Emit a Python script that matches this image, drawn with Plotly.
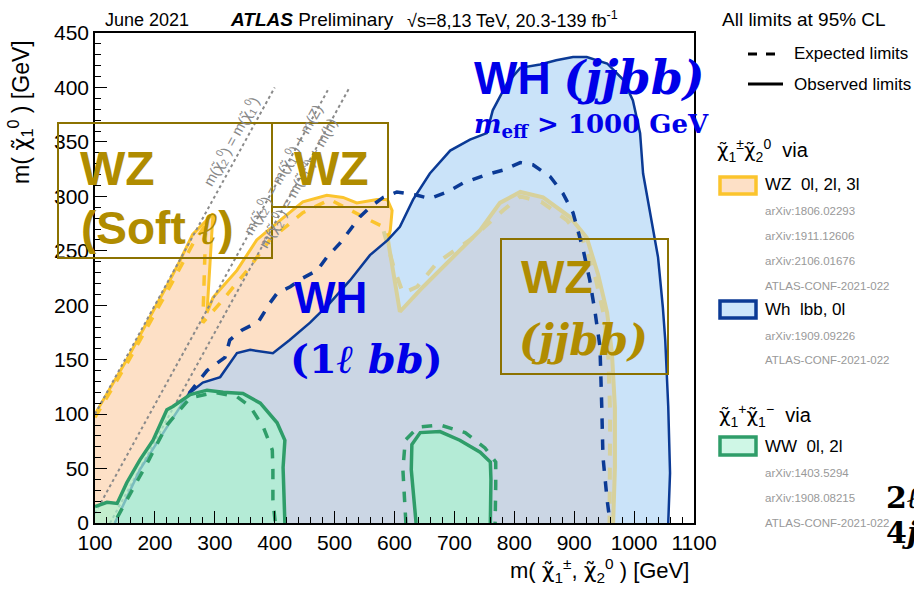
import plotly.graph_objects as go

# ---------------- data ----------------
# WH (1l bb + 0l jjbb) observed contour
WH_obs_x = [133, 175, 220, 257, 280, 309, 337, 359, 397, 425, 459, 492, 526, 559, 589, 609, 631, 659,
            693, 726, 754, 764, 788, 810, 843, 870, 898, 921, 955, 982, 998, 1010, 1015, 1030, 1040,
            1048, 1052, 1057, 1060, 1057]
WH_obs_y = [0, 49, 88, 119, 129, 134, 156, 159, 156, 168, 184, 202, 223, 246, 260, 272, 297, 321,
            342, 352, 358, 379, 404, 418, 421, 425, 428, 428, 422, 407, 388, 358, 321, 275, 244,
            198, 168, 107, 46, 0]
# WH expected contour
WH_exp_x = [257, 287, 317, 325, 345, 373, 392, 404, 426, 447, 471, 487, 509, 526, 542, 559, 581, 604,
            638, 659, 688, 714, 754, 781, 810, 831, 860, 881, 898, 915, 926, 935, 943, 946, 948, 955, 960]
WH_exp_y = [119, 140, 152, 168, 177, 185, 202, 211, 217, 225, 232, 244, 257, 269, 281, 290, 299, 304,
            301, 298, 304, 312, 320, 324, 331, 329, 318, 303, 285, 251, 223, 193, 162, 107, 61, 21, 0]
# WZ (jjbb) observed / expected (right part of the contour)
WZjj_obs_x = [589, 598, 609, 648, 698, 743, 776, 810, 848, 893, 921, 940, 955, 963, 968, 968, 965]
WZjj_obs_y = [260, 232, 194, 217, 244, 269, 294, 304, 299, 281, 262, 228, 193, 156, 106, 51, 0]
WZjj_exp_x = [582, 598, 614, 638, 671, 726, 781, 810, 845, 888, 916, 936, 950, 957, 960, 959]
WZjj_exp_y = [268, 236, 211, 217, 239, 260, 287, 300, 295, 278, 258, 224, 190, 152, 100, 0]
# WZ (0l, 2l, 3l incl. soft lepton) observed / expected
WZ_obs_x = [100, 153, 225, 241, 263, 297, 287, 297, 337, 370, 409, 447, 487, 514, 537, 571, 588, 596, 593, 589]
WZ_obs_y = [100, 150, 223, 240, 265, 284, 193, 207, 232, 260, 278, 295, 301, 299, 294, 297, 297, 287, 269, 260]
WZ_exp_x = [100, 155, 228, 245, 265, 285, 280, 309, 354, 392, 447, 492, 526, 559, 581, 588]
WZ_exp_y = [97, 148, 220, 238, 258, 274, 184, 202, 232, 260, 285, 297, 287, 278, 272, 263]
# WW (0l, 2l) observed / expected, main region and island
WW_obs_x = [100, 100, 120, 137, 145, 153, 175, 197, 220, 230, 259, 287, 314, 347, 376, 404, 417, 414, 417]
WW_obs_y = [0, 15, 19, 18, 28, 37, 58, 76, 104, 107, 118, 122, 120, 119, 110, 92, 76, 51, 0]
WW_exp_x = [137, 160, 190, 220, 259, 300, 337, 359, 381, 396, 397, 397, 401]
WW_exp_y = [5, 28, 58, 90, 115, 120, 116, 107, 88, 67, 49, 21, 0]
WW2_obs_x = [636, 628, 629, 643, 676, 709, 743, 760, 761, 760]
WW2_obs_y = [0, 49, 72, 83, 84, 76, 65, 56, 40, 0]
WW2_exp_x = [619, 614, 618, 639, 676, 718, 751, 769, 769, 768]
WW2_exp_y = [0, 49, 76, 88, 90, 83, 69, 56, 35, 0]
# kinematic lines m(chi2) = m(chi1) + offset
M_OFFSETS = [0.0, 91.2, 125.0]
Y_MAX_LINE = 400.0

X_TICKS = list(range(100, 1101, 100))
Y_TICKS = list(range(0, 451, 50))

# ---------------- styles ----------------
C_PEACH = "#fde0c6"
C_YELLOW = "#fbc42d"
C_BLUEFILL = "#cae3f9"
C_GRAY = "#cbd6e4"
C_KHAKI = "#d7d19c"
C_BLUE = "#0b3a95"
C_GREENFILL = "rgba(169,243,208,0.7)"
C_GREEN = "#2f9d69"
C_GOLD = "#b08c00"
C_GOLDBOX = "#8c7200"
C_TXTBLUE = "#0000e8"
SANS = "Liberation Sans"
SERIF = "DejaVu Serif"

fig = go.Figure()


def poly(x, y, color):
    fig.add_trace(go.Scatter(x=x, y=y, fill="toself", fillcolor=color, mode="lines",
                             line=dict(width=0), hoverinfo="skip", showlegend=False))


def line(x, y, color, width, dash="solid"):
    fig.add_trace(go.Scatter(x=x, y=y, mode="lines",
                             line=dict(color=color, width=width, dash=dash),
                             hoverinfo="skip", showlegend=False))


# WZ region (bounded on the lower right by the WH contour)
i_j = WH_obs_x.index(589)
wz_px = [100] + WZ_obs_x + WH_obs_x[i_j - 1::-1]
wz_py = [0] + WZ_obs_y + WH_obs_y[i_j - 1::-1]
poly(wz_px, wz_py, C_PEACH)
line(WZ_exp_x, WZ_exp_y, C_YELLOW, 3.5, "dash")
line(WZ_obs_x, WZ_obs_y, C_YELLOW, 3)

# kinematic lines
for off in M_OFFSETS:
    x0 = max(100.0, off)
    fig.add_trace(go.Scatter(x=[x0, Y_MAX_LINE + off], y=[x0 - off, Y_MAX_LINE], mode="lines",
                             line=dict(color="#8a8a8a", width=2, dash="dot"),
                             hoverinfo="skip", showlegend=False))

# WH region and WZ(jjbb) region
poly(WH_obs_x, WH_obs_y, C_BLUEFILL)
poly(WH_obs_x[:i_j + 1] + WZjj_obs_x[1:], WH_obs_y[:i_j + 1] + WZjj_obs_y[1:], C_GRAY)
line(WZjj_obs_x, WZjj_obs_y, C_KHAKI, 4)
line(WZjj_exp_x, WZjj_exp_y, C_KHAKI, 4, "dash")
line(WH_exp_x, WH_exp_y, C_BLUE, 3.5, "dash")
line(WH_obs_x, WH_obs_y, C_BLUE, 2.5)

# WW regions
poly(WW_obs_x, WW_obs_y, C_GREENFILL)
poly(WW2_obs_x, WW2_obs_y, C_GREENFILL)
line(WW_exp_x, WW_exp_y, C_GREEN, 3.5, "dash")
line(WW2_exp_x, WW2_exp_y, C_GREEN, 3.5, "dash")
line(WW_obs_x[1:], WW_obs_y[1:], C_GREEN, 3.5)
line(WW2_obs_x, WW2_obs_y, C_GREEN, 3.5)

# ---------------- layout helpers ----------------
L, R, T, B = 95, 694, 33, 523
W, H = R - L, B - T


def px(xp):
    return (xp - L) / W


def py(yp):
    return (B - yp) / H


annotations = []


def ann(x, y, text, size, color="black", family=SANS, xanchor="center", yanchor="middle",
        angle=0, align="center"):
    annotations.append(dict(x=px(x), y=py(y), xref="paper", yref="paper", text=text,
                            showarrow=False, xanchor=xanchor, yanchor=yanchor, textangle=angle,
                            align=align, font=dict(size=size, color=color, family=family)))


shapes = []


def rect(x0, y0, x1, y1, color, width, fill="rgba(0,0,0,0)"):
    shapes.append(dict(type="rect", xref="paper", yref="paper", x0=px(x0), x1=px(x1),
                       y0=py(y1), y1=py(y0), line=dict(color=color, width=width), fillcolor=fill))


def hline(x0, x1, y, color, width, dash="solid"):
    shapes.append(dict(type="line", xref="paper", yref="paper", x0=px(x0), x1=px(x1),
                       y0=py(y), y1=py(y), line=dict(color=color, width=width, dash=dash)))


chi = "<span style=\"font-family:'DejaVu Sans'\">χ\u0303</span>"
# header
ann(103, 20, "June 2021", 18, xanchor="left")
ann(228, 20, "<b><i>ATLAS</i></b> Preliminary", 19, xanchor="left")
ann(405, 20, "√s=8,13 TeV, 20.3-139 fb<sup>-1</sup>", 18, xanchor="left")
ann(720, 20, "All limits at 95% CL", 19, xanchor="left")
hline(748, 783, 54, "black", 3, "dash")
ann(792, 54, "Expected limits", 17, xanchor="left")
hline(748, 783, 84, "black", 3)
ann(792, 84, "Observed limits", 17, xanchor="left")

# legend
ann(715, 150, f"{chi}<sub>1</sub><sup>±</sup>{chi}<sub>2</sub><sup>0</sup>  via", 20, xanchor="left")
rect(720, 177, 756, 194, C_YELLOW, 3.5, C_PEACH)
ann(763, 185, "WZ  0l, 2l, 3l", 17, xanchor="left")
for yy, t in zip([211, 236, 261, 286],
                 ["arXiv:1806.02293", "arXiv:1911.12606", "arXiv:2106.01676", "ATLAS-CONF-2021-022"]):
    ann(763, yy, t, 11.5, "#999999", xanchor="left")
rect(720, 301, 756, 318, C_BLUE, 3.5, "#cce5fb")
ann(763, 309, "Wh  lbb, 0l", 17, xanchor="left")
for yy, t in zip([336, 360], ["arXiv:1909.09226", "ATLAS-CONF-2021-022"]):
    ann(763, yy, t, 11.5, "#999999", xanchor="left")
ann(717, 415, f"{chi}<sub>1</sub><sup>+</sup>{chi}<sub>1</sub><sup>−</sup>  via", 20, xanchor="left")
rect(720, 437, 756, 455, C_GREEN, 3.5, "#cff7e6")
ann(763, 446, "WW  0l, 2l", 17, xanchor="left")
for yy, t in zip([473, 498, 523], ["arXiv:1403.5294", "arXiv:1908.08215", "ATLAS-CONF-2021-022"]):
    ann(763, yy, t, 11.5, "#999999", xanchor="left")
ann(884, 497, "<b>2<i>ℓ</i></b>", 30, family=SERIF, xanchor="left")
ann(884, 532, "<b>4<i>j</i></b>", 30, family=SERIF, xanchor="left")

# axis titles
ann(20, 38, f"m( {chi}<sub>1</sub><sup>0</sup> ) [GeV]", 23, xanchor="center", yanchor="top", angle=-90)
ann(691, 570, f"m( {chi}<sub>1</sub><sup>±</sup>, {chi}<sub>2</sub><sup>0</sup> ) [GeV]", 22,
    xanchor="right")

# kinematic line labels
ann(231, 142, f"m({chi}<sub>2</sub><sup>0</sup>) = m({chi}<sub>1</sub><sup>0</sup>)", 14.5,
    "#888888", angle=-61)
ann(283, 170, f"m({chi}<sub>2</sub><sup>0</sup>) = m({chi}<sub>1</sub><sup>0</sup>) + m(Z)", 14.5,
    "#888888", angle=-61)
ann(298, 183, f"m({chi}<sub>2</sub><sup>0</sup>) = m({chi}<sub>1</sub><sup>0</sup>) + m(h)", 14.5,
    "#888888", angle=-61)

# boxes and region labels
rect(58, 123, 272, 258, C_GOLDBOX, 2)
rect(272, 123, 388, 207, C_GOLDBOX, 2)
rect(501, 239, 668, 374, C_GOLDBOX, 2)
serif_span = f"<span style=\"font-family:'{SERIF}'\">"
ann(78, 168, "<b>WZ</b>", 48, C_GOLD, xanchor="left")
ann(79, 228, f"<b>(Soft {serif_span}<i>ℓ</i></span>)</b>", 46, C_GOLD, xanchor="left")
ann(331, 168, "<b>WZ</b>", 48, C_GOLD)
ann(557, 277, "<b>WZ</b>", 46, C_GOLD)
ann(583, 340, "<b><i>(jjbb)</i></b>", 42, C_GOLD, family=SERIF)
ann(589, 78, f"<b>WH {serif_span}<i>(jjbb)</i></span></b>", 46, C_TXTBLUE)
ann(591, 125, "<b><i>m</i><sub>eff</sub> &gt; 1000 GeV</b>", 26, C_TXTBLUE, family=SERIF)
ann(330, 297, "<b>WH</b>", 44, C_TXTBLUE)
ann(366, 358, "<b>(1<i>ℓ</i> <i>bb</i>)</b>", 40, C_TXTBLUE, family=SERIF)

axis_common = dict(showgrid=False, zeroline=False, showline=True, linecolor="black", linewidth=1.5,
                   mirror=True, ticks="inside", ticklen=12, tickwidth=1.3, tickcolor="black",
                   tickfont=dict(family=SANS, size=21, color="black"))

fig.update_layout(
    width=914, height=591,
    margin=dict(l=L, r=914 - R, t=T, b=591 - B),
    paper_bgcolor="white", plot_bgcolor="white",
    showlegend=False,
    xaxis=dict(range=[100, 1100], tickvals=X_TICKS, ticktext=[str(v) for v in X_TICKS],
               minor=dict(ticks="inside", dtick=20, ticklen=6, tickcolor="black", tickwidth=1.2),
               **axis_common),
    yaxis=dict(range=[0, 450], tickvals=Y_TICKS, ticktext=[str(v) for v in Y_TICKS],
               minor=dict(ticks="inside", dtick=10, ticklen=6, tickcolor="black", tickwidth=1.2),
               **axis_common),
    annotations=annotations,
    shapes=shapes,
)

fig.write_html("out.html")
